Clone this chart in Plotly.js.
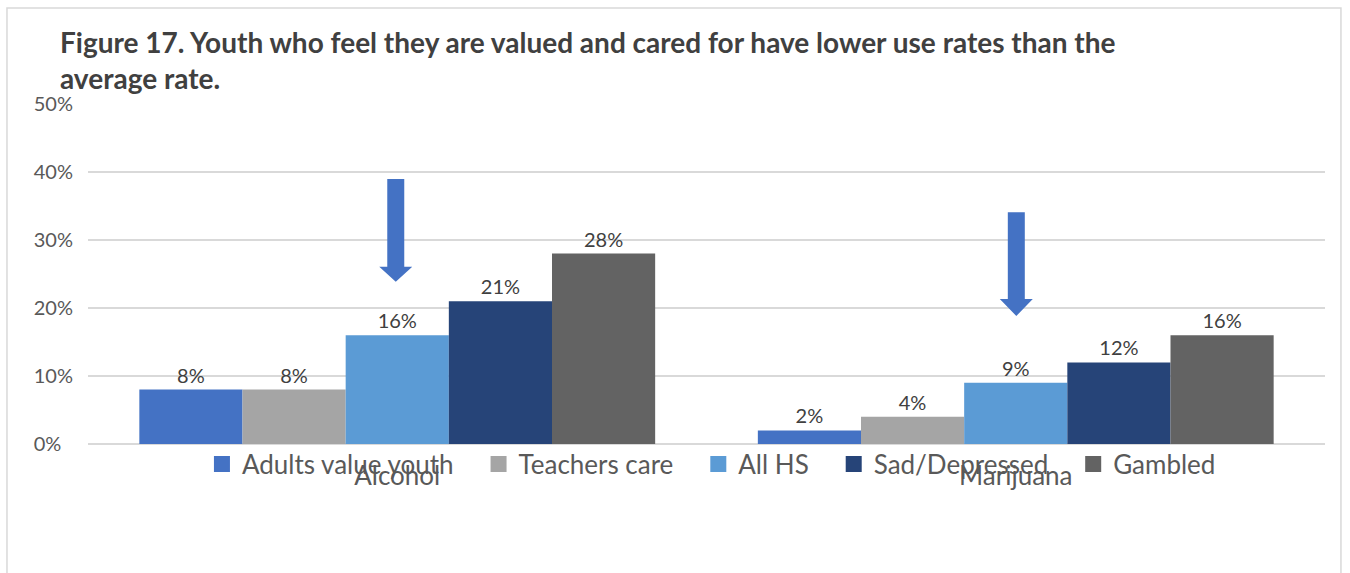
<!DOCTYPE html>
<html>
<head>
<meta charset="utf-8">
<script src="https://cdn.plot.ly/plotly-3.0.1.min.js"></script>
<style>html,body{margin:0;padding:0;background:#fff;}#chart{width:1350px;height:573px;}</style>
</head>
<body>
<div id="chart"></div>
<script>
const categories = ["Alcohol", "Marijuana"];
const seriesNames = ["Adults value youth", "Teachers care", "All HS", "Sad/Depressed", "Gambled"];
const adultsValueYouth = [8, 2];
const teachersCare = [8, 4];
const allHS = [16, 9];
const sadDepressed = [21, 12];
const gambled = [28, 16];
const seriesColors = ["#4472C4", "#A5A5A5", "#5B9BD5", "#264478", "#636363"];
const yTickVals = [0, 10, 20, 30, 40, 50];
const yTickText = ["0%\u2007", "10%", "20%", "30%", "40%", "50%"];
// arrow annotations: [category index center, top, head base, tip] (y in %)
const arrows = [
  {cx: -0.0024, top: 38.97, base: 26.07, tip: 23.87},
  {cx: 1.0009, top: 34.07, base: 21.32, tip: 18.82}
];

const allValues = [adultsValueYouth, teachersCare, allHS, sadDepressed, gambled];
const FONT = "Lato, 'Open Sans', sans-serif";
const PAD = "\u00a0\u00a0\u00a0";

const traces = allValues.map((vals, i) => ({
  type: "bar",
  name: seriesNames[i],
  legendgroup: seriesNames[i],
  showlegend: false,
  x: categories,
  y: vals,
  marker: {color: seriesColors[i], line: {width: 0}},
  text: vals.map(v => v + "%"),
  textposition: "outside",
  textfont: {family: FONT, size: 20, color: "#404040"},
  cliponaxis: false,
  hoverinfo: "skip"
}));
// legend entries (square keys) for each series
seriesNames.forEach((n, i) => {
  traces.push({
    type: "scatter",
    mode: "markers",
    x: [null], y: [null],
    name: n + (i < seriesNames.length - 1 ? PAD : ""),
    legendgroup: n,
    showlegend: true,
    marker: {symbol: "square", size: 18, color: seriesColors[i]},
    hoverinfo: "skip"
  });
});

const shaftHalf = 0.01374, headHalf = 0.02668;
const shapes = arrows.map(a => ({
  type: "path",
  xref: "x", yref: "y",
  path: `M ${a.cx - shaftHalf} ${a.top} L ${a.cx + shaftHalf} ${a.top} L ${a.cx + shaftHalf} ${a.base} L ${a.cx + headHalf} ${a.base} L ${a.cx} ${a.tip} L ${a.cx - headHalf} ${a.base} L ${a.cx - shaftHalf} ${a.base} Z`,
  fillcolor: "#4472C4",
  line: {width: 0}
}));
shapes.unshift({
  type: "rect", xref: "paper", yref: "paper",
  x0: -0.0655, x1: 1.0129, y0: -0.40, y1: 1.282,
  line: {color: "#D9D9D9", width: 1.5},
  fillcolor: "rgba(0,0,0,0)",
  layer: "below"
});

const layout = {
  width: 1350, height: 573,
  margin: {l: 88, r: 25, t: 104, b: 129},
  paper_bgcolor: "#ffffff",
  plot_bgcolor: "#ffffff",
  font: {family: FONT, color: "#595959"},
  title: {
    text: "<b>Figure 17. Youth who feel they are valued and cared for have lower use rates than the<br>average rate.</b>",
    font: {family: FONT, size: 28, color: "#404040"},
    xref: "container", yref: "container",
    x: 60 / 1350, xanchor: "left",
    y: 1 - 53 / 573, yanchor: "top"
  },
  barmode: "group",
  bargap: 0.166,
  bargroupgap: 0,
  showlegend: true,
  legend: {
    orientation: "h",
    x: 0.504, xanchor: "center",
    y: -0.0588, yanchor: "middle",
    font: {family: FONT, size: 26, color: "#595959"},
    bgcolor: "rgba(0,0,0,0)",
    itemclick: false,
    traceorder: "normal"
  },
  xaxis: {
    type: "category",
    range: [-0.5, 1.5],
    showgrid: false,
    showline: false,
    zeroline: false,
    ticks: "",
    ticklabelstandoff: 14,
    tickfont: {family: FONT, size: 26, color: "#595959"},
    fixedrange: true
  },
  yaxis: {
    range: [0, 50],
    tickvals: yTickVals,
    ticktext: yTickText,
    showgrid: true,
    gridcolor: "#D9D9D9",
    gridwidth: 1.5,
    zeroline: true,
    zerolinecolor: "#D9D9D9",
    zerolinewidth: 1.5,
    showline: false,
    ticks: "",
    ticklabelstandoff: 14,
    tickfont: {family: FONT, size: 20, color: "#595959"},
    fixedrange: true
  },
  shapes: shapes
};

Plotly.newPlot("chart", traces, layout, {displayModeBar: false, staticPlot: true});
</script>
</body>
</html>
